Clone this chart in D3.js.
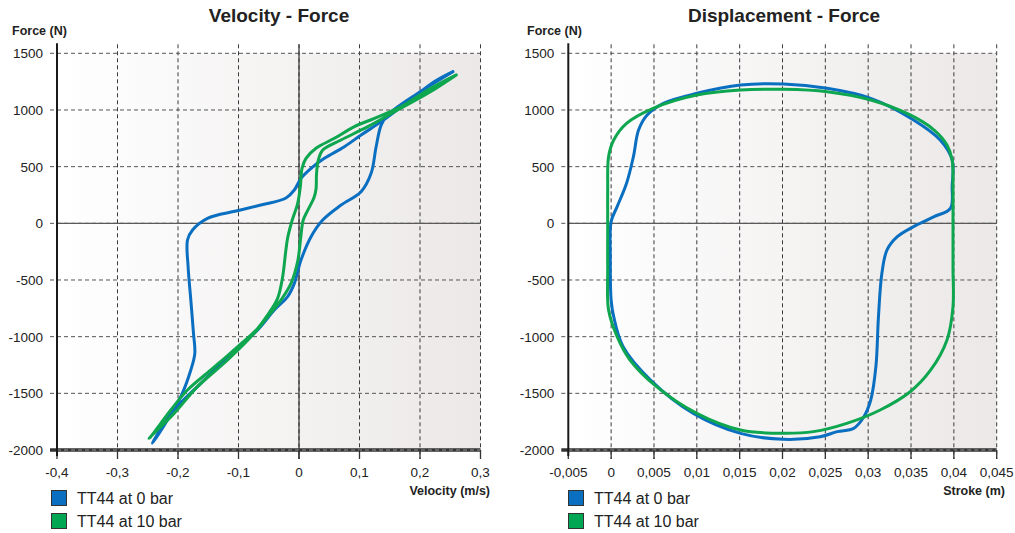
<!DOCTYPE html>
<html>
<head>
<meta charset="utf-8">
<script src="https://cdn.jsdelivr.net/npm/d3@7"></script>
<style>
  html, body { margin: 0; padding: 0; background: #ffffff; }
  svg { display: block; font-family: Arial, "Liberation Sans", sans-serif; }
</style>
</head>
<body>
<svg id="chart" width="1015" height="533"></svg>
<script>
// ---- Shared force axis ----
const forceTicks = [-2000, -1500, -1000, -500, 0, 500, 1000, 1500];
const forceTickLabels = ["-2000", "-1500", "-1000", "-500", "0", "500", "1000", "1500"];

// ---- Velocity - Force ----
const velTicks = [-0.4, -0.3, -0.2, -0.1, 0, 0.1, 0.2, 0.3];
const velTickLabels = ["-0,4", "-0,3", "-0,2", "-0,1", "0", "0,1", "0,2", "0,3"];

// TT44 at 0 bar (velocity m/s, force N)
const velBar0V = [0.2545, 0.1965, 0.1468, 0.1358, 0.1275, 0.1192, 0.1026, 0.0695, 0.0392, 0.0199, 0.0033, -0.0077, -0.0188, -0.0408, -0.0684, -0.1126, -0.1567, -0.2064, -0.2395, -0.2420,
  -0.2174, -0.1954, -0.1788, -0.1722, -0.1744, -0.1788, -0.1833, -0.1843, -0.1760, -0.1512, -0.1040, -0.0630, -0.0215, -0.0077, 0.0033, 0.0199, 0.0419, 0.0750, 0.1026, 0.1358, 0.1800, 0.2240, 0.2545];
const velBar0F = [1338, 1147, 956, 867, 676, 441, 279, 161, 29, -118, -324, -530, -647, -765, -941, -1147, -1383, -1647, -1912, -1941,
  -1736, -1530, -1294, -1147, -971, -677, -383, -147, -59, 44, 108, 161, 223, 294, 397, 485, 573, 676, 779, 897, 1073, 1250, 1338];

// TT44 at 10 bar (velocity m/s, force N)
const velBar10V = [0.2600, 0.2130, 0.1689, 0.1247, 0.0916, 0.0585, 0.0281, 0.0116, 0.0050, 0.0022, -0.0022, -0.0120, -0.0188, -0.0220, -0.0270, -0.0353, -0.0519, -0.0684, -0.1015, -0.1457, -0.1843, -0.2119, -0.2285, -0.2450, -0.2480,
  -0.2064, -0.1678, -0.1180, -0.0740, -0.0519, -0.0298, -0.0132, -0.0020, 0.0030, 0.0070, 0.0150, 0.0250, 0.0281, 0.0290, 0.0320, 0.0392, 0.0695, 0.1137, 0.1578, 0.2130, 0.2600];
const velBar10F = [1309, 1176, 1029, 926, 853, 750, 662, 573, 485, 323, 176, 14, -130, -250, -471, -662, -809, -927, -1089, -1294, -1471, -1647, -1765, -1883, -1897,
  -1677, -1441, -1206, -971, -824, -677, -530, -330, -118, 29, 120, 230, 300, 441, 559, 647, 735, 853, 985, 1147, 1309];

// ---- Displacement - Force ----
const strokeTicks = [-0.005, 0, 0.005, 0.01, 0.015, 0.02, 0.025, 0.03, 0.035, 0.04, 0.045];
const strokeTickLabels = ["-0,005", "0", "0,005", "0,01", "0,015", "0,02", "0,025", "0,03", "0,035", "0,04", "0,045"];

// TT44 at 0 bar (stroke m, force N), closed loop
const dispBar0S = [0.0398, 0.0384, 0.0353, 0.0303, 0.0252, 0.0201, 0.0151, 0.0100, 0.0061, 0.0042, 0.0032, 0.0026, 0.0018, 0.0007, 0.0000, -0.0001, 0.0000, 0.0003, 0.0014, 0.0046, 0.0096, 0.0151, 0.0201, 0.0244, 0.0264, 0.0283, 0.0295, 0.0303, 0.0309, 0.0312, 0.0316, 0.0322, 0.0334, 0.0353, 0.0377, 0.0396, 0.0398];
const dispBar0F = [559, 735, 912, 1103, 1191, 1229, 1220, 1147, 1059, 956, 823, 588, 353, 147, 15, -300, -677, -824, -1089, -1383, -1677, -1853, -1906, -1883, -1838, -1809, -1706, -1559, -1265, -824, -441, -235, -118, -29, 59, 132, 330];

// TT44 at 10 bar (stroke m, force N), closed loop
const dispBar10S = [-0.0003, -0.0004, -0.0004, -0.0004, -0.0003, 0.0003, 0.0018, 0.0049, 0.0100, 0.0151, 0.0201, 0.0252, 0.0303, 0.0349, 0.0377, 0.0392, 0.0398, 0.0399, 0.0399, 0.0399, 0.0399, 0.0392, 0.0373, 0.0349, 0.0314, 0.0275, 0.0236, 0.0201, 0.0151, 0.0100, 0.0053, 0.0022, 0.0007];
const dispBar10F = [-765, -400, 0, 300, 588, 735, 882, 1015, 1132, 1176, 1182, 1161, 1088, 956, 823, 691, 559, 300, 0, -400, -735, -1029, -1294, -1486, -1647, -1765, -1838, -1853, -1824, -1677, -1441, -1206, -1000];

const seriesNames = ["TT44 at 0 bar", "TT44 at 10 bar"];
const seriesColors = ["#0a6fc0", "#0ea64f"];
const legendFill = ["#0a6fc0", "#00a651"];

const svg = d3.select("#chart");

// Background gradient of the plot areas
const defs = svg.append("defs");
const grad = defs.append("linearGradient").attr("id", "plotBg").attr("x1", "0").attr("x2", "1").attr("y1", "0").attr("y2", "0");
grad.append("stop").attr("offset", "0").attr("stop-color", "#ffffff");
grad.append("stop").attr("offset", "1").attr("stop-color", "#ebe8e7");

function zip(xs, ys) { return xs.map((x, i) => [x, ys[i]]); }

function drawPanel(cfg) {
  const g = svg.append("g");
  const x = d3.scaleLinear().domain(cfg.xDomain).range(cfg.xRange);
  const y = d3.scaleLinear().domain([-2000, 1500]).range([450, 53.3]);
  const [x0, x1] = cfg.xRange;
  const yTop = y(1500), yBot = y(-2000);

  // plot background
  g.append("rect").attr("x", x0).attr("y", yTop).attr("width", x1 - x0).attr("height", yBot - yTop)
    .attr("fill", "url(#plotBg)");

  // vertical dashed gridlines (extend above and below as ticks)
  g.selectAll("line.vgrid").data(cfg.xTicks.slice(1)).join("line")
    .attr("x1", d => x(d)).attr("x2", d => x(d))
    .attr("y1", yTop - 9).attr("y2", yBot + 9)
    .attr("stroke", "#3a3a3a").attr("stroke-width", 1).attr("stroke-dasharray", "4,3");

  // horizontal dashed gridlines
  g.selectAll("line.hgrid").data(forceTicks.slice(1)).join("line")
    .attr("x1", x0 - 7).attr("x2", x1)
    .attr("y1", d => y(d)).attr("y2", d => y(d))
    .attr("stroke", "#555").attr("stroke-width", 1).attr("stroke-dasharray", "4,3");

  // zero lines
  g.append("line").attr("x1", x0).attr("x2", x1).attr("y1", y(0)).attr("y2", y(0))
    .attr("stroke", "#5a5a5a").attr("stroke-width", 1.2);
  if (cfg.zeroVertical) {
    g.append("line").attr("x1", x(0)).attr("x2", x(0)).attr("y1", yTop - 9).attr("y2", yBot + 9)
      .attr("stroke", "#333").attr("stroke-width", 1.2);
  }

  // bottom axis band
  g.append("line").attr("x1", x0 - 7).attr("x2", x1).attr("y1", yBot).attr("y2", yBot)
    .attr("stroke", "#333").attr("stroke-width", 3.5);
  g.append("line").attr("x1", x0).attr("x2", x1).attr("y1", yBot).attr("y2", yBot)
    .attr("stroke", "#9a9a9a").attr("stroke-width", 1).attr("stroke-dasharray", "4,3");
  g.selectAll("line.xtk").data(cfg.xTicks).join("line")
    .attr("x1", d => x(d)).attr("x2", d => x(d)).attr("y1", yBot).attr("y2", yBot + 9)
    .attr("stroke", "#333").attr("stroke-width", 1.3);

  // left axis
  g.append("line").attr("x1", x0).attr("x2", x0).attr("y1", yTop - 10).attr("y2", yBot + 6)
    .attr("stroke", "#1a1a1a").attr("stroke-width", 2);

  // y tick labels
  g.selectAll("text.ylab").data(forceTicks).join("text")
    .attr("x", x0 - 14).attr("y", d => y(d)).attr("dy", "0.36em")
    .attr("text-anchor", "end").attr("font-size", 13.5).attr("fill", "#222")
    .text((d, i) => forceTickLabels[i]);

  // x tick labels
  g.selectAll("text.xlab").data(cfg.xTicks).join("text")
    .attr("x", d => x(d)).attr("y", 477)
    .attr("text-anchor", "middle").attr("font-size", 13.5).attr("fill", "#222")
    .text((d, i) => cfg.xTickLabels[i]);

  // titles
  g.append("text").attr("x", cfg.titleX).attr("y", 22).attr("text-anchor", "middle")
    .attr("font-size", 19).attr("font-weight", "bold").attr("fill", "#222").text(cfg.title);
  g.append("text").attr("x", cfg.yLabelX).attr("y", 35).attr("font-size", 12.5)
    .attr("font-weight", "bold").attr("fill", "#222").text("Force (N)");
  g.append("text").attr("x", cfg.xLabelRight).attr("y", 495).attr("text-anchor", "end")
    .attr("font-size", 12.5).attr("font-weight", "bold").attr("fill", "#222").text(cfg.xLabel);

  // curves
  const line = d3.line().x(d => x(d[0])).y(d => y(d[1]))
    .curve(cfg.closed ? d3.curveCatmullRomClosed.alpha(0.5) : d3.curveCatmullRom.alpha(0.5));
  cfg.series.forEach((s, i) => {
    g.append("path").datum(s).attr("d", line)
      .attr("fill", "none").attr("stroke", seriesColors[i]).attr("stroke-width", 3)
      .attr("stroke-linejoin", "round").attr("stroke-linecap", "round");
  });

  // legend
  seriesNames.forEach((name, i) => {
    const ly = 490 + i * 23;
    g.append("rect").attr("x", cfg.legendX + 0.5).attr("y", ly + 0.5).attr("width", 15).attr("height", 15)
      .attr("fill", legendFill[i]).attr("stroke", "#333").attr("stroke-width", 1);
    g.append("text").attr("x", cfg.legendX + 26).attr("y", ly + 13.5).attr("font-size", 16)
      .attr("fill", "#222").text(name);
  });
}

drawPanel({
  xDomain: [-0.4, 0.3], xRange: [57, 480.5], xTicks: velTicks, xTickLabels: velTickLabels,
  zeroVertical: true, closed: false,
  title: "Velocity - Force", titleX: 279, yLabelX: 12, xLabel: "Velocity (m/s)", xLabelRight: 490,
  series: [zip(velBar0V, velBar0F), zip(velBar10V, velBar10F)], legendX: 51
});

drawPanel({
  xDomain: [-0.005, 0.045], xRange: [568.3, 996.7], xTicks: strokeTicks, xTickLabels: strokeTickLabels,
  zeroVertical: false, closed: true,
  title: "Displacement - Force", titleX: 784, yLabelX: 527, xLabel: "Stroke (m)", xLabelRight: 1005,
  series: [zip(dispBar0S, dispBar0F), zip(dispBar10S, dispBar10F)], legendX: 568
});
</script>
</body>
</html>
